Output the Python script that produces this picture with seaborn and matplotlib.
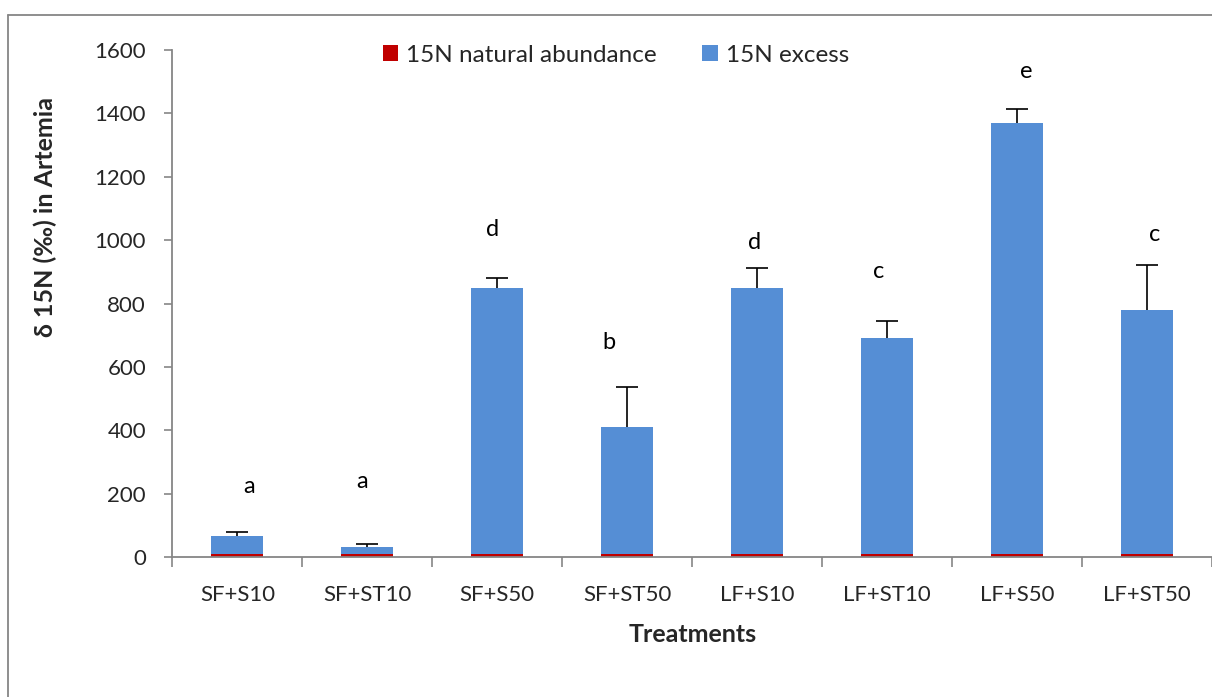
import matplotlib
matplotlib.use("Agg")
import matplotlib.pyplot as plt
from matplotlib.patches import Patch
from matplotlib.lines import Line2D
import seaborn as sns
import pandas as pd
import numpy as np

categories = ["SF+S10", "SF+ST10", "SF+S50", "SF+ST50", "LF+S10", "LF+ST10", "LF+S50", "LF+ST50"]
natural_abundance = [8, 8, 8, 8, 8, 8, 8, 8]
excess = [58, 25, 840, 403, 840, 682, 1361, 770]
error_up = [12, 8.5, 32, 125, 64, 56, 45, 144]
letters = ["a", "a", "d", "b", "d", "c", "e", "c"]
letter_y = [201, 217, 1014, 656, 972, 880, 1511, 996]
letter_dx = [0.09, -0.04, -0.04, -0.14, -0.02, -0.065, 0.07, 0.06]

sns.set_theme(style="white")
plt.rcParams["font.family"] = ["Lato", "DejaVu Sans"]

BLUE = "#558ED5"
RED = "#C00000"
GREY = "#868686"

df = pd.DataFrame({
    "Treatment": categories,
    "natural": natural_abundance,
    "excess": excess,
})
df["total"] = df["natural"] + df["excess"]

fig = plt.figure(figsize=(12.12, 6.97), dpi=100)
ax = fig.add_axes([172.5 / 1212, 140 / 697, 1 - 172.5 / 1212, 507 / 697])

sns.barplot(data=df, x="Treatment", y="total", color=BLUE, width=0.4,
            saturation=1, ax=ax, errorbar=None, order=categories, linewidth=0)
sns.barplot(data=df, x="Treatment", y="natural", color=RED, width=0.4,
            saturation=1, ax=ax, errorbar=None, order=categories, linewidth=0)

xpos = np.arange(len(categories))
eb = ax.errorbar(xpos, df["total"], yerr=[np.zeros(len(categories)), error_up],
                 fmt="none", ecolor="black", elinewidth=1.2, capsize=8, capthick=1.2, zorder=5)
# keep only the upper caps
eb[1][0].set_visible(False)

for i, (lab, yv, dx) in enumerate(zip(letters, letter_y, letter_dx)):
    ax.text(i + dx, yv, lab, ha="center", va="baseline", fontsize=17, color="black")

ax.set_xlim(-0.5, len(categories) - 0.5)
ax.set_ylim(0, 1600)
ax.set_yticks(np.arange(0, 1601, 200))
ax.set_yticklabels([str(v) for v in range(0, 1601, 200)], fontsize=16)

ax.set_xticks(np.arange(-0.5, len(categories), 1.0))
ax.set_xticklabels([])
ax.set_xticks(xpos, minor=True)
ax.set_xticklabels(categories, minor=True, fontsize=16)
ax.tick_params(axis="x", which="major", direction="out", length=7, width=1.2, color=GREY, bottom=True)
ax.tick_params(axis="x", which="minor", length=0, pad=20)
ax.tick_params(axis="y", which="major", direction="out", length=6, width=1.2, color=GREY, left=True, pad=13)

for s in ["top", "right"]:
    ax.spines[s].set_visible(False)
for s in ["left", "bottom"]:
    ax.spines[s].set_color(GREY)
    ax.spines[s].set_linewidth(1.3)

ax.set_xlabel("")
ax.set_ylabel("")
ax.text(0.5, -0.13, "Treatments", transform=ax.transAxes, ha="center", va="top",
        fontsize=18, fontweight="bold")
ax.text(-0.1227, 0.67, "δ 15N (‰) in Artemia", transform=ax.transAxes, rotation=90,
        ha="center", va="center", fontsize=18, fontweight="bold")
ax.grid(False)

handles = [Patch(facecolor=RED, edgecolor="none", label="15N natural abundance"),
           Patch(facecolor=BLUE, edgecolor="none", label="15N excess")]
fig.legend(handles=handles, loc="center", bbox_to_anchor=(0.508, 1 - 55 / 697), ncol=2,
           frameon=False, fontsize=17.5, handlelength=0.65, handleheight=0.65,
           handletextpad=0.3, columnspacing=1.9)

# outer chart frame
fy = 1 - 15 / 697
fx = 8 / 1212
fig.add_artist(Line2D([fx, fx], [0, fy], transform=fig.transFigure, color=GREY, lw=1.3))
fig.add_artist(Line2D([fx, 1], [fy, fy], transform=fig.transFigure, color=GREY, lw=1.3))

fig.savefig("out.png", dpi=100, facecolor="white")
